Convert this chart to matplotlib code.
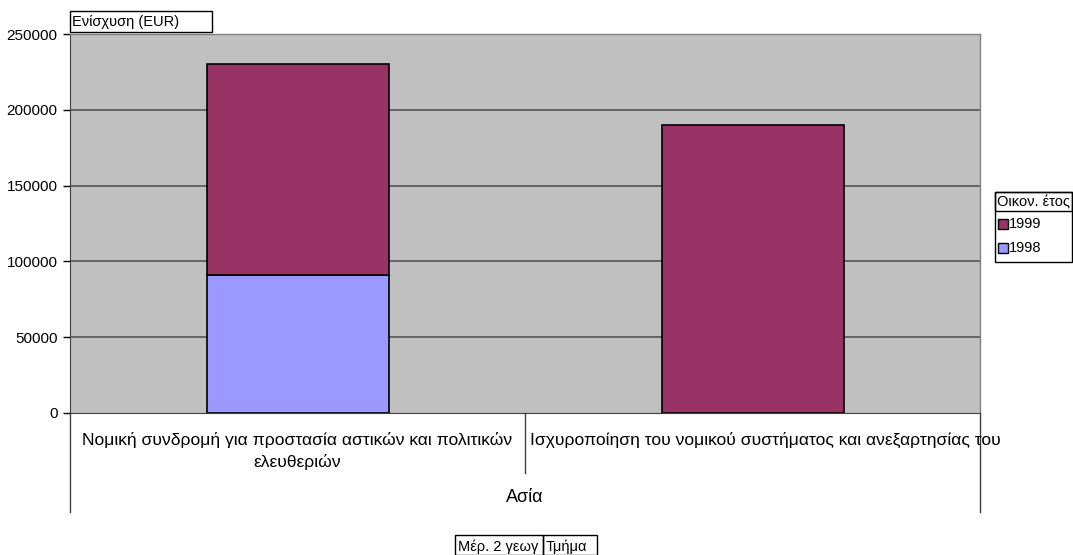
import matplotlib
matplotlib.use("Agg")
import matplotlib.pyplot as plt
from matplotlib.transforms import blended_transform_factory, offset_copy
from matplotlib.patches import Rectangle

plt.rcParams['font.family'] = ['Liberation Sans', 'DejaVu Sans']

categories = ["Νομική συνδρομή για προστασία αστικών και πολιτικών\nελευθεριών",
              "Ισχυροποίηση του νομικού συστήματος και ανεξαρτησίας του"]
region = "Ασία"
v1998 = [91000, 0]
v1999 = [139000, 190000]
yticks = [0, 50000, 100000, 150000, 200000, 250000]
c1998 = "#9999FF"
c1999 = "#993366"

W, H = 1073, 555
fig = plt.figure(figsize=(W / 100, H / 100), dpi=100)
L, R, T, B = 70, 980, 34, 413
ax = fig.add_axes([L / W, 1 - B / H, (R - L) / W, (B - T) / H])
ax.set_facecolor("#C0C0C0")

x = list(range(len(categories)))
ax.bar(x, v1998, width=0.4, color=c1998, edgecolor="black", linewidth=1.2, zorder=3)
ax.bar(x, v1999, bottom=v1998, width=0.4, color=c1999, edgecolor="black", linewidth=1.2, zorder=3)

ax.set_xlim(-0.5, len(categories) - 0.5)
ax.set_ylim(0, 250000)
ax.set_yticks(yticks)
ax.set_yticklabels([str(v) for v in yticks], fontsize=11)
ax.tick_params(axis='y', length=5, width=1, color="black", pad=4)
ax.set_xticks([])
for yv in yticks[1:]:
    ax.axhline(yv, color="#555555", linewidth=1.2, zorder=1)
for s in ["top", "right"]:
    ax.spines[s].set_color("#808080")
    ax.spines[s].set_linewidth(1)
ax.spines["left"].set_color("#404040")
ax.spines["bottom"].set_color("#404040")

tr = blended_transform_factory(ax.transData, ax.transAxes)
ta = ax.transAxes
ph = (B - T)
def ypix(p):
    return -(p - B) / ph

# category labels
offsets = [0, 13]
for i, c in enumerate(categories):
    t = offset_copy(tr, fig=fig, x=offsets[i], y=0, units='dots')
    ax.text(i, ypix(432), c, transform=t, ha="center", va="top", fontsize=12.6,
            linespacing=1.45, clip_on=False)
# separators
ax.plot([0.5, 0.5], [0, ypix(473)], transform=tr, color="#404040", lw=1, clip_on=False)
ax.plot([0, 0], [0, ypix(512)], transform=ta, color="#404040", lw=1, clip_on=False)
ax.plot([1, 1], [0, ypix(512)], transform=ta, color="#404040", lw=1, clip_on=False)
ax.text(0.5, ypix(489), region, transform=ta, ha="center", va="top", fontsize=13, clip_on=False)

# y-axis title box
fig.text(72 / W, 1 - 22 / H, "Ενίσχυση (EUR)", ha="left", va="center", fontsize=10.5)
fig.patches.append(Rectangle((70 / W, 1 - 32 / H), 142 / W, 21 / H, transform=fig.transFigure,
                             fill=False, edgecolor="black", lw=1))

# legend box
lx0, lx1 = 995, 1072
fig.patches.append(Rectangle((lx0 / W, 1 - 262 / H), (lx1 - lx0) / W, (262 - 192) / H,
                             transform=fig.transFigure, fill=False, edgecolor="black", lw=1))
fig.patches.append(Rectangle((lx0 / W, 1 - 211 / H), (lx1 - lx0) / W, (211 - 192) / H,
                             transform=fig.transFigure, fill=False, edgecolor="black", lw=1))
fig.text(997 / W, 1 - 202 / H, "Οικον. έτος", ha="left", va="center", fontsize=10.5)
for yy, lab, col in [(224, "1999", c1999), (248, "1998", c1998)]:
    fig.patches.append(Rectangle((998 / W, 1 - (yy + 5) / H), 10 / W, 10 / H,
                                 transform=fig.transFigure, facecolor=col, edgecolor="black", lw=1))
    fig.text(1009 / W, 1 - yy / H, lab, ha="left", va="center", fontsize=10.5)

# bottom field buttons
fig.patches.append(Rectangle((455 / W, 0), 88 / W, 20 / H, transform=fig.transFigure,
                             fill=False, edgecolor="black", lw=1))
fig.patches.append(Rectangle((543 / W, 0), 54 / W, 20 / H, transform=fig.transFigure,
                             fill=False, edgecolor="black", lw=1))
fig.text(458 / W, 1 - 547 / H, "Μέρ. 2 γεωγ", ha="left", va="center", fontsize=10.5)
fig.text(546 / W, 1 - 547 / H, "Τμήμα", ha="left", va="center", fontsize=10.5)

fig.savefig("out.png", dpi=100)
